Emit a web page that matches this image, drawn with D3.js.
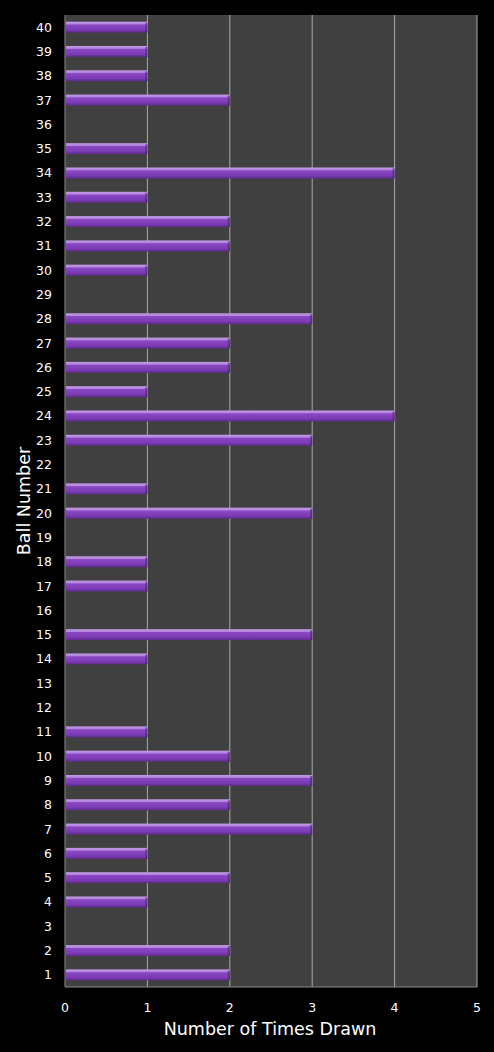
<!DOCTYPE html>
<html>
<head>
<meta charset="utf-8">
<script src="https://cdn.jsdelivr.net/npm/d3@7"></script>
<style>
  body { margin: 0; background: #000; }
  text { font-family: "DejaVu Sans", Verdana, sans-serif; }
</style>
</head>
<body>
<div id="root"></div>
<script>
// ball numbers, bottom to top
const balls = d3.range(1, 41).map(String);
const timesDrawn = [2, 2, 0, 1, 2, 1, 3, 2, 3, 2,
                    1, 0, 0, 1, 3, 0, 1, 1, 0, 3,
                    1, 0, 3, 4, 1, 2, 2, 3, 0, 1,
                    2, 2, 1, 4, 1, 0, 2, 1, 1, 1];
const xTicks = [0, 1, 2, 3, 4, 5];

const width = 494, height = 1052;
const margin = {top: 15, right: 17, bottom: 65, left: 65};

const svg = d3.select('#root').append('svg')
  .attr('width', width).attr('height', height)
  .style('display', 'block');

svg.append('rect').attr('width', width).attr('height', height).attr('fill', '#000');

const x = d3.scaleLinear().domain([0, 5]).range([margin.left, width - margin.right]);
const y = d3.scaleBand().domain(balls.slice().reverse())
  .range([margin.top, height - margin.bottom])
  .paddingInner(0.55).paddingOuter(0.275);

// bar gradient (light top edge, darker bottom)
const defs = svg.append('defs');
const grad = defs.append('linearGradient').attr('id', 'barGrad')
  .attr('x1', 0).attr('y1', 0).attr('x2', 0).attr('y2', 1);
[[0, '#c49be6'], [0.22, '#b184dc'], [0.3, '#8a47c4'], [0.75, '#7b3bb4'], [1, '#5e2a8c']]
  .forEach(s => grad.append('stop').attr('offset', s[0]).attr('stop-color', s[1]));

// plot background
svg.append('rect')
  .attr('x', x(0)).attr('y', margin.top)
  .attr('width', x(5) - x(0)).attr('height', height - margin.bottom - margin.top)
  .attr('fill', '#404040');

// vertical gridlines
svg.append('g').selectAll('line').data(xTicks).enter().append('line')
  .attr('x1', d => x(d)).attr('x2', d => x(d))
  .attr('y1', margin.top).attr('y2', height - margin.bottom)
  .attr('stroke', d => d === 0 ? '#8a8a8a' : '#a8a8a8').attr('stroke-width', 1);

// bottom axis line
svg.append('line')
  .attr('x1', x(0)).attr('x2', x(5))
  .attr('y1', height - margin.bottom).attr('y2', height - margin.bottom)
  .attr('stroke', '#8a8a8a');

// bars
const bars = svg.append('g').selectAll('g').data(balls.map((b, i) => ({ball: b, v: timesDrawn[i]})).filter(d => d.v > 0))
  .enter().append('g');
bars.append('rect')
  .attr('x', x(0) + 1)
  .attr('y', d => y(d.ball))
  .attr('width', d => x(d.v) - x(0) - 1)
  .attr('height', y.bandwidth())
  .attr('fill', 'url(#barGrad)');
// darker end cap
bars.append('rect')
  .attr('x', d => x(d.v) - 2)
  .attr('y', d => y(d.ball) + 1)
  .attr('width', 2)
  .attr('height', y.bandwidth() - 1)
  .attr('fill', '#4a2370').attr('opacity', 0.6);

// y tick labels
svg.append('g').selectAll('text').data(balls).enter().append('text')
  .attr('x', 52).attr('y', d => y(d) + y.bandwidth() / 2)
  .attr('dy', '0.36em')
  .attr('text-anchor', 'end')
  .attr('fill', '#fff').attr('font-size', 12.5)
  .text(d => d);

// x tick labels
svg.append('g').selectAll('text').data(xTicks).enter().append('text')
  .attr('x', d => x(d)).attr('y', height - margin.bottom + 25)
  .attr('text-anchor', 'middle')
  .attr('fill', '#fff').attr('font-size', 12.5)
  .text(d => d);

// axis titles
svg.append('text')
  .attr('x', 270).attr('y', 1035)
  .attr('text-anchor', 'middle')
  .attr('fill', '#fff').attr('font-size', 17.5)
  .text('Number of Times Drawn');

svg.append('text')
  .attr('transform', 'translate(30,' + ((margin.top + height - margin.bottom) / 2) + ') rotate(-90)')
  .attr('text-anchor', 'middle')
  .attr('fill', '#fff').attr('font-size', 17.5)
  .text('Ball Number');
</script>
</body>
</html>
